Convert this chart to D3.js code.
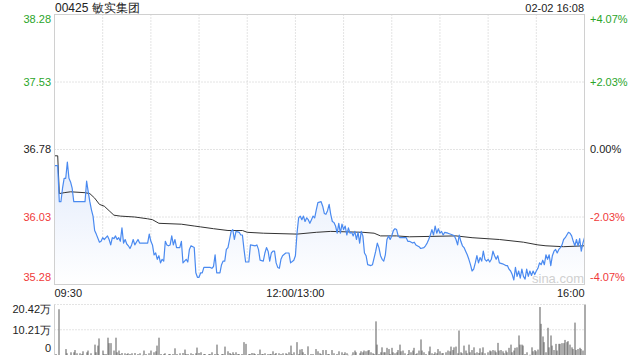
<!DOCTYPE html>
<html>
<head>
<meta charset="utf-8">
<script src="https://cdn.jsdelivr.net/npm/d3@7"></script>
<style>
  html, body { margin: 0; padding: 0; background: #fff; }
  svg { display: block; font-family: "Liberation Sans", Arial, sans-serif; }
  .grid { stroke: #c8c8c8; stroke-dasharray: 1,2; }
  .frame { stroke: #d0d0d0; fill: none; }
</style>
</head>
<body>
<div id="chart"></div>
<script>
/* Intraday chart for 00425 - price line, average line and per-minute volume. */

const title = "00425 敏实集团";
const stamp = "02-02 16:08";
const prevClose = 36.78;

// left price ticks and matching right percent ticks
const priceTicks = [38.28, 37.53, 36.78, 36.03, 35.28];
const pctTicks = ["+4.07%", "+2.03%", "0.00%", "-2.03%", "-4.07%"];

// trading minutes since 09:30 (lunch break removed), 330 = 16:00
const timeTicks = [0, 150, 330];
const timeLabels = ["09:30", "12:00/13:00", "16:00"];

// volume ticks (万 shares)
const volTicks = [20.42, 10.21, 0];
const volLabels = ["20.42万", "10.21万", "0"];

// [minute, price]
const price = [
  [0,36.60],[2,36.60],[3,36.20],[4,36.20],[5,36.35],[6,36.46],[7,36.46],[8,36.64],[9,36.46],[10,36.42],
  [11,36.35],[12,36.20],[19,36.20],[20,36.43],[21,36.31],[22,36.20],[23,36.11],[24,36.04],[25,35.88],[26,35.84],
  [28,35.75],[29,35.76],[30,35.80],[31,35.78],[32,35.80],[33,35.82],[34,35.78],[35,35.72],[36,35.80],[37,35.79],
  [38,35.82],[39,35.78],[40,35.80],[41,35.76],[42,35.91],[43,35.74],[44,35.78],[45,35.73],[46,35.71],[47,35.68],
  [48,35.72],[49,35.78],[50,35.72],[52,35.78],[53,35.74],[58,35.74],[59,35.84],[60,35.76],[61,35.72],[62,35.61],
  [63,35.63],[64,35.56],[65,35.60],[66,35.52],[67,35.56],[68,35.54],[69,35.76],[70,35.72],[71,35.71],[72,35.72],
  [73,35.82],[74,35.72],[75,35.78],[76,35.69],[78,35.69],[79,35.76],[80,35.52],[82,35.56],[83,35.53],[84,35.67],
  [85,35.71],[87,35.69],[88,35.41],[89,35.36],[90,35.36],[91,35.41],[92,35.41],[93,35.47],[97,35.47],[98,35.46],
  [99,35.48],[100,35.61],[101,35.41],[103,35.41],[104,35.50],[105,35.54],[106,35.54],[107,35.67],[108,35.69],[109,35.78],
  [110,35.87],[111,35.89],[112,35.78],[113,35.87],[115,35.86],[116,35.83],[117,35.83],[118,35.67],[119,35.53],[121,35.53],
  [122,35.72],[125,35.71],[126,35.72],[127,35.67],[128,35.55],[130,35.54],[131,35.63],[132,35.69],[133,35.65],[134,35.54],
  [135,35.63],[136,35.65],[137,35.65],[138,35.52],[139,35.47],[140,35.46],[141,35.56],[142,35.60],[144,35.63],[146,35.63],
  [147,35.52],[149,35.55],[150,35.60],[151,35.85],[152,36.02],[153,36.04],[154,36.00],[155,36.04],[156,35.98],[157,36.02],
  [158,36.00],[159,35.96],[160,36.00],[161,36.04],[162,36.02],[163,36.11],[164,36.19],[166,36.20],[167,36.15],[168,36.07],
  [169,36.06],[170,36.10],[171,36.17],[172,36.06],[173,35.98],[174,35.97],[175,35.93],[176,35.85],[177,35.96],[178,35.85],
  [179,35.95],[180,35.89],[181,35.93],[182,35.83],[183,35.91],[184,35.85],[185,35.86],[186,35.82],[187,35.87],[188,35.78],
  [189,35.86],[190,35.74],[191,35.87],[192,35.82],[193,35.63],[194,35.60],[195,35.50],[197,35.49],[198,35.50],[200,35.65],
  [201,35.74],[202,35.69],[203,35.60],[204,35.56],[205,35.54],[206,35.61],[207,35.78],[208,35.82],[209,35.78],[210,35.82],
  [211,35.88],[212,35.90],[213,35.89],[214,35.82],[215,35.80],[218,35.80],[219,35.80],[220,35.76],[221,35.76],[223,35.74],
  [224,35.75],[225,35.72],[227,35.70],[228,35.68],[230,35.69],[231,35.71],[232,35.74],[233,35.78],[234,35.83],[235,35.89],
  [236,35.83],[237,35.93],[238,35.85],[239,35.90],[240,35.85],[241,35.87],[242,35.83],[243,35.86],[245,35.85],[248,35.83],
  [249,35.82],[250,35.78],[251,35.72],[252,35.83],[253,35.76],[254,35.71],[255,35.69],[256,35.65],[257,35.61],[258,35.56],
  [259,35.50],[260,35.43],[261,35.45],[262,35.52],[263,35.60],[264,35.52],[265,35.58],[266,35.54],[267,35.65],[268,35.56],
  [269,35.54],[270,35.56],[271,35.53],[272,35.56],[273,35.65],[274,35.60],[275,35.56],[276,35.60],[277,35.52],[279,35.51],
  [281,35.49],[282,35.49],[283,35.45],[284,35.43],[285,35.39],[286,35.33],[287,35.47],[288,35.37],[289,35.43],[290,35.35],
  [291,35.45],[292,35.37],[293,35.34],[294,35.45],[295,35.37],[296,35.43],[297,35.38],[298,35.43],[299,35.39],[300,35.43],
  [301,35.46],[302,35.52],[303,35.50],[304,35.55],[305,35.50],[306,35.61],[307,35.56],[308,35.61],[309,35.49],[310,35.60],
  [311,35.65],[312,35.67],[313,35.63],[314,35.67],[315,35.69],[316,35.72],[317,35.78],[318,35.80],[319,35.83],[320,35.86],
  [321,35.85],[322,35.82],[323,35.76],[324,35.71],[325,35.78],[326,35.71],[327,35.79],[328,35.65],[329,35.74],[330,35.80]
];

// [minute, average price]
const avgPrice = [
  [0,36.71],[2,36.71],[3,36.29],[6,36.30],[10,36.31],[19,36.30],[22,36.29],[25,36.24],[28,36.17],[31,36.15],
  [34,36.10],[37,36.05],[41,36.04],[50,36.03],[58,36.01],[61,36.00],[65,35.96],[79,35.95],[87,35.93],[91,35.92],
  [99,35.90],[108,35.88],[117,35.88],[120,35.86],[130,35.85],[151,35.84],[163,35.86],[172,35.87],[192,35.86],[199,35.85],
  [203,35.82],[213,35.82],[221,35.81],[250,35.82],[260,35.80],[277,35.78],[292,35.75],[301,35.72],[306,35.71],[317,35.70],
  [330,35.71]
];

// [minute, volume in 万 shares]
const volume = [
  [1,0.4],[3,18.5],[7,2.4],[8,0.7],[10,1.1],[12,1.1],[13,2.0],[14,0.7],[16,0.7],[17,0.4],
  [18,1.5],[20,1.1],[21,1.8],[23,0.7],[25,4.2],[26,1.1],[27,3.8],[28,6.7],[30,1.8],[31,0.4],
  [32,0.4],[33,7.0],[34,4.8],[35,4.8],[37,1.8],[38,7.0],[39,1.1],[40,1.8],[41,0.4],[42,0.8],
  [44,0.7],[45,0.4],[46,0.7],[47,0.4],[48,0.7],[50,0.8],[52,0.4],[53,0.7],[55,0.1],[56,1.8],
  [57,0.4],[59,0.7],[60,1.8],[62,1.1],[63,1.5],[64,3.8],[65,7.0],[66,0.4],[68,0.4],[69,0.7],
  [71,0.4],[72,0.4],[74,0.4],[75,2.7],[76,0.4],[78,0.7],[80,0.8],[81,2.2],[82,0.4],[83,0.4],
  [85,0.7],[86,0.4],[88,0.7],[89,3.0],[90,0.8],[91,1.1],[93,0.4],[94,0.4],[96,0.4],[97,0.4],
  [98,1.1],[100,0.4],[101,4.2],[102,0.4],[104,0.4],[105,0.4],[106,3.4],[108,1.5],[109,0.8],[110,0.4],
  [111,1.1],[112,0.4],[113,1.1],[114,0.4],[115,0.4],[117,0.4],[118,5.2],[119,4.5],[121,0.4],[122,0.4],
  [123,0.8],[124,0.7],[125,0.4],[127,0.4],[128,2.2],[129,0.4],[130,0.4],[131,0.7],[133,0.4],[134,0.4],
  [135,0.4],[136,1.5],[137,0.4],[138,0.8],[140,0.7],[141,0.4],[142,0.7],[144,0.7],[145,0.4],[146,1.1],
  [147,3.8],[148,0.4],[149,1.1],[151,5.2],[152,0.4],[153,2.2],[154,2.4],[155,1.1],[156,0.4],[158,3.5],
  [160,0.4],[161,0.4],[163,2.4],[164,1.5],[165,0.7],[166,0.4],[167,2.0],[169,2.0],[170,0.4],[171,0.4],
  [173,2.0],[174,0.7],[176,0.4],[177,1.5],[179,1.1],[180,0.4],[181,1.1],[182,0.7],[183,0.1],[185,0.1],
  [186,1.1],[187,1.8],[188,1.1],[190,0.7],[191,1.5],[192,1.1],[193,1.8],[194,1.5],[195,1.8],[196,2.0],
  [197,1.1],[198,0.7],[199,0.4],[200,13.6],[201,4.2],[202,0.4],[203,1.1],[204,3.1],[205,1.1],[206,1.1],
  [207,2.9],[208,2.4],[209,0.4],[210,2.9],[211,1.1],[212,0.7],[213,1.1],[214,2.0],[215,4.2],[216,1.5],
  [217,1.8],[218,0.7],[220,0.4],[221,2.0],[222,1.1],[223,1.8],[224,2.9],[225,0.4],[226,0.7],[227,1.8],
  [228,6.3],[229,1.8],[230,1.1],[231,0.4],[233,1.5],[234,3.4],[235,0.7],[236,0.4],[237,1.1],[238,0.7],
  [239,2.4],[240,1.5],[241,0.7],[242,0.8],[244,1.1],[245,1.8],[246,1.5],[247,3.4],[248,2.0],[249,3.1],
  [250,3.4],[251,0.7],[252,9.9],[253,1.1],[254,0.7],[255,3.8],[256,1.8],[257,0.7],[258,4.2],[259,1.1],
  [260,2.0],[261,3.1],[262,0.7],[263,1.1],[264,0.8],[265,2.7],[266,1.1],[267,3.1],[268,0.7],[270,1.1],
  [271,1.8],[272,1.5],[273,2.0],[274,1.8],[275,1.1],[276,4.9],[277,1.8],[278,2.0],[279,1.5],[280,0.7],
  [281,1.8],[282,1.1],[283,2.9],[284,4.2],[285,1.1],[286,1.8],[287,2.9],[288,3.1],[289,7.9],[290,4.2],
  [291,4.2],[292,3.8],[293,0.4],[294,1.1],[296,0.1],[297,3.1],[298,1.5],[299,2.0],[300,1.5],[301,2.2],
  [302,19.4],[303,12.6],[304,7.5],[305,5.2],[306,1.1],[307,11.0],[308,3.1],[309,7.9],[310,3.8],[311,2.0],
  [312,4.5],[313,1.8],[314,4.5],[315,4.5],[316,4.8],[317,4.8],[318,6.1],[319,5.2],[320,5.6],[321,4.2],
  [322,3.1],[323,2.4],[324,13.1],[325,2.0],[326,2.4],[327,2.9],[328,2.4],[329,1.8],[330,20.42]
];

const W = 640, H = 360;
const GREEN = "#2aa52a", RED = "#f03a3a", TEXT = "#222";

const svg = d3.select("#chart").append("svg").attr("width", W).attr("height", H);

// scales
const x = d3.scaleLinear().domain([0, 330]).range([54.5, 584.5]);
const y = d3.scaleLinear().domain([35.28, 38.28]).range([284.5, 14.5]);
const yv = d3.scaleLinear().domain([0, 20.42]).range([355, 304.5]);

const tickColor = v => v > prevClose ? GREEN : (v < prevClose ? RED : TEXT);

// header
svg.append("text").attr("x", 55).attr("y", 12).attr("font-size", 12).attr("fill", TEXT).text(title);
svg.append("text").attr("x", 584).attr("y", 12).attr("font-size", 11).attr("fill", TEXT)
    .attr("text-anchor", "end").text(stamp);

// price panel grid: dotted horizontals and a line every 30 minutes
svg.append("g").selectAll("line").data(priceTicks.slice(1, -1)).join("line").attr("class", "grid")
    .attr("x1", x(0)).attr("x2", x(330)).attr("y1", d => y(d)).attr("y2", d => y(d));
svg.append("g").selectAll("line").data(d3.range(30, 330, 30)).join("line").attr("class", "grid")
    .attr("x1", d => x(d)).attr("x2", d => x(d)).attr("y1", y(38.28)).attr("y2", y(35.28));

// area under the price line, pale blue fading out
const grad = svg.append("defs").append("linearGradient").attr("id", "fade")
    .attr("gradientUnits", "userSpaceOnUse").attr("x1", 0).attr("x2", 0)
    .attr("y1", y(36.4)).attr("y2", y(35.28));
grad.append("stop").attr("offset", 0).attr("stop-color", "#e8effc");
grad.append("stop").attr("offset", 1).attr("stop-color", "#ffffff");

svg.append("path").datum(price).attr("fill", "url(#fade)")
    .attr("d", d3.area().x(d => x(d[0])).y0(y(35.28)).y1(d => y(d[1])));

svg.append("text").attr("x", 532).attr("y", 283).attr("font-size", 13).attr("fill", "#d0d0d0").text("sina.com");

svg.append("path").datum(avgPrice).attr("fill", "none").attr("stroke", "#333").attr("stroke-width", 1)
    .attr("d", d3.line().x(d => x(d[0])).y(d => y(d[1])));
svg.append("path").datum(price).attr("fill", "none").attr("stroke", "#4a8af0").attr("stroke-width", 1.2)
    .attr("stroke-linejoin", "round")
    .attr("d", d3.line().x(d => x(d[0])).y(d => y(d[1])));

svg.append("rect").attr("class", "frame")
    .attr("x", x(0)).attr("y", y(38.28)).attr("width", x(330) - x(0)).attr("height", y(35.28) - y(38.28));

// price labels (top one sits below its line, bottom one above)
const nudge = (i, n) => i === 0 ? 5 : (i === n - 1 ? -7 : 0);
svg.append("g").selectAll("text").data(priceTicks).join("text")
    .attr("x", 51).attr("y", (d, i) => y(d) + nudge(i, priceTicks.length)).attr("dy", "0.35em")
    .attr("text-anchor", "end").attr("font-size", 11).attr("fill", d => tickColor(d))
    .text(d => d.toFixed(2));
svg.append("g").selectAll("text").data(pctTicks).join("text")
    .attr("x", 590).attr("y", (d, i) => y(priceTicks[i]) + nudge(i, pctTicks.length)).attr("dy", "0.35em")
    .attr("font-size", 11).attr("fill", (d, i) => tickColor(priceTicks[i]))
    .text(d => d);

// time labels
svg.append("g").selectAll("text").data(timeTicks).join("text")
    .attr("x", d => x(d)).attr("y", 297).attr("font-size", 11).attr("fill", TEXT)
    .attr("text-anchor", (d, i) => i === 0 ? "start" : (i === timeTicks.length - 1 ? "end" : "middle"))
    .text((d, i) => timeLabels[i]);

// volume panel
svg.append("g").selectAll("line").data(volTicks.slice(0, -1)).join("line").attr("class", "grid")
    .attr("x1", x(0)).attr("x2", x(330)).attr("y1", d => yv(d)).attr("y2", d => yv(d));
svg.append("line").attr("class", "frame").attr("x1", x(0)).attr("x2", x(0)).attr("y1", yv(20.42)).attr("y2", yv(0));

svg.append("g").selectAll("rect").data(volume).join("rect")
    .attr("x", d => Math.round(x(d[0])) - 0.5).attr("width", 1)
    .attr("y", d => yv(d[1])).attr("height", d => Math.max(0.5, yv(0) - yv(d[1])))
    .attr("fill", "#5a5a5a");

svg.append("g").selectAll("text").data(volTicks).join("text")
    .attr("x", 51).attr("y", (d, i) => yv(d) + nudge(i, volTicks.length)).attr("dy", "0.35em")
    .attr("text-anchor", "end").attr("font-size", 11).attr("fill", TEXT)
    .text((d, i) => volLabels[i]);
</script>
</body>
</html>
